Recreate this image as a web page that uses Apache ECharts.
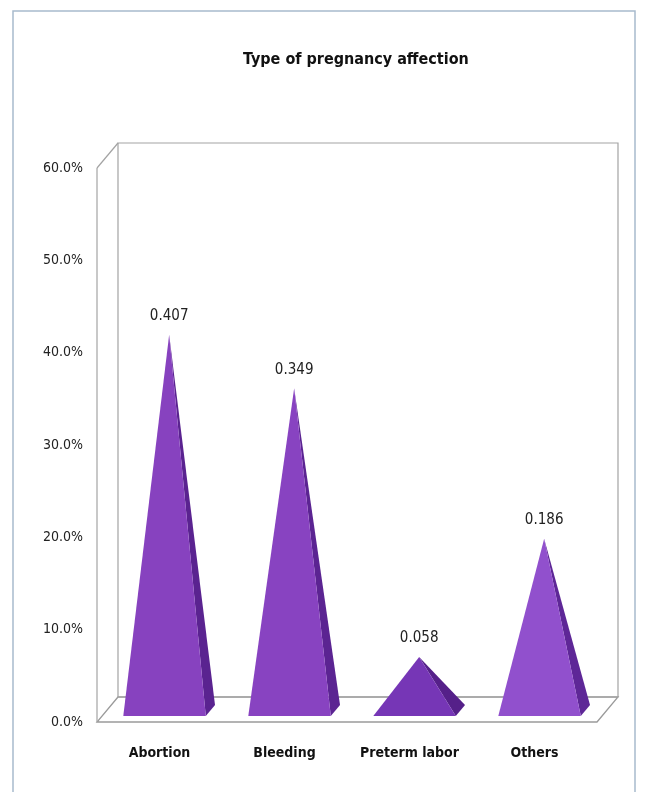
<!DOCTYPE html>
<html>
<head>
<meta charset="utf-8">
<script src="https://cdn.jsdelivr.net/npm/echarts@6/dist/echarts.min.js"></script>
<style>html,body{margin:0;padding:0;background:#fff}#c{width:645px;height:792px}</style>
</head>
<body>
<div id="c"></div>
<script>
const categories = ['Abortion', 'Bleeding', 'Preterm labor', 'Others'];
const values = [0.407, 0.349, 0.058, 0.186];
const valueLabels = ['0.407', '0.349', '0.058', '0.186'];
const frontColors = ['#8742bf', '#8843c1', '#7636b6', '#9150cd'];
const sideColors = ['#5a2390', '#5b2492', '#552089', '#5e2797'];
const yTicks = [0, 0.1, 0.2, 0.3, 0.4, 0.5, 0.6];

const DX = 21, DY = -25; // depth offset of the 3D box
const FONT = '"DejaVu Sans Condensed", sans-serif';

const chart = echarts.init(document.getElementById('c'), null, {renderer: 'canvas'});

function boxRender(params, api) {
  const cs = params.coordSys;
  const x0 = cs.x, x1 = cs.x + cs.width;
  const yb = api.coord([0, yTicks[0]])[1];
  const yt = api.coord([0, yTicks[yTicks.length - 1]])[1];
  const st = {stroke: '#a3a3a3', lineWidth: 1.2, fill: null};
  const line = (a, b, c, d) => ({type: 'line', shape: {x1: a, y1: b, x2: c, y2: d}, style: st, silent: true});
  return {
    type: 'group',
    children: [
      {type: 'polygon', shape: {points: [[x0, yb], [x1, yb], [x1 + DX, yb + DY], [x0 + DX, yb + DY]]},
        style: {fill: '#ffffff', stroke: '#9a9a9a', lineWidth: 1.3}, silent: true},
      {type: 'rect', shape: {x: x0 + DX, y: yt + DY, width: cs.width, height: yb - yt},
        style: {fill: null, stroke: '#a3a3a3', lineWidth: 1.2}, silent: true},
      line(x0, yb, x0, yt),
      line(x0, yt, x0 + DX, yt + DY)
    ]
  };
}

function pyramidRender(params, api) {
  const idx = params.dataIndex;
  const base = api.coord([api.value(0), 0]);
  const top = api.coord([api.value(0), api.value(1)]);
  const band = api.size([1, 0])[0];
  const half = band * 0.33;
  const d0 = 0.24, d1 = 0.68, dm = 0.46;
  const fl = [base[0] - half + d0 * DX, base[1] + d0 * DY];
  const fr = [base[0] + half + d0 * DX, base[1] + d0 * DY];
  const br = [base[0] + half + d1 * DX, base[1] + d1 * DY];
  const apex = [top[0] + dm * DX, top[1] + dm * DY];
  return {
    type: 'group',
    children: [
      {type: 'polygon', shape: {points: [fr, br, apex]}, style: {fill: sideColors[idx]}},
      {type: 'polygon', shape: {points: [fl, fr, apex]}, style: {fill: frontColors[idx]}},
      {type: 'text', x: apex[0], y: apex[1] - 11,
        style: {text: valueLabels[idx], fill: '#222', font: '15px ' + FONT, align: 'center', verticalAlign: 'bottom'}}
    ]
  };
}

chart.setOption({
  backgroundColor: '#ffffff',
  animation: false,
  title: {
    text: 'Type of pregnancy affection',
    left: 238, top: 47,
    textStyle: {fontFamily: FONT, fontWeight: 'bold', fontSize: 16, color: '#111'}
  },
  graphic: [{
    type: 'rect', shape: {x: 13, y: 11, width: 622, height: 800},
    style: {fill: null, stroke: '#a8bacd', lineWidth: 1.5}, silent: true, z: -10
  }],
  grid: {left: 97, right: 48, top: 168, bottom: 70},
  xAxis: {
    type: 'category', data: categories,
    axisLine: {show: false}, axisTick: {show: false},
    axisLabel: {interval: 0, margin: 24, fontFamily: FONT, fontWeight: 'bold', fontSize: 14, color: '#111'}
  },
  yAxis: {
    type: 'value', min: 0, max: 0.6, interval: 0.1,
    axisLine: {show: false}, axisTick: {show: false}, splitLine: {show: false},
    axisLabel: {margin: 14, fontFamily: FONT, fontSize: 14, color: '#222',
      formatter: v => (v * 100).toFixed(1) + '%'}
  },
  series: [
    {type: 'custom', renderItem: boxRender, data: [[0, 0]], z: 1, silent: true},
    {type: 'custom', renderItem: pyramidRender,
      data: categories.map((c, i) => [i, values[i]]), z: 2}
  ]
});
</script>
</body>
</html>
